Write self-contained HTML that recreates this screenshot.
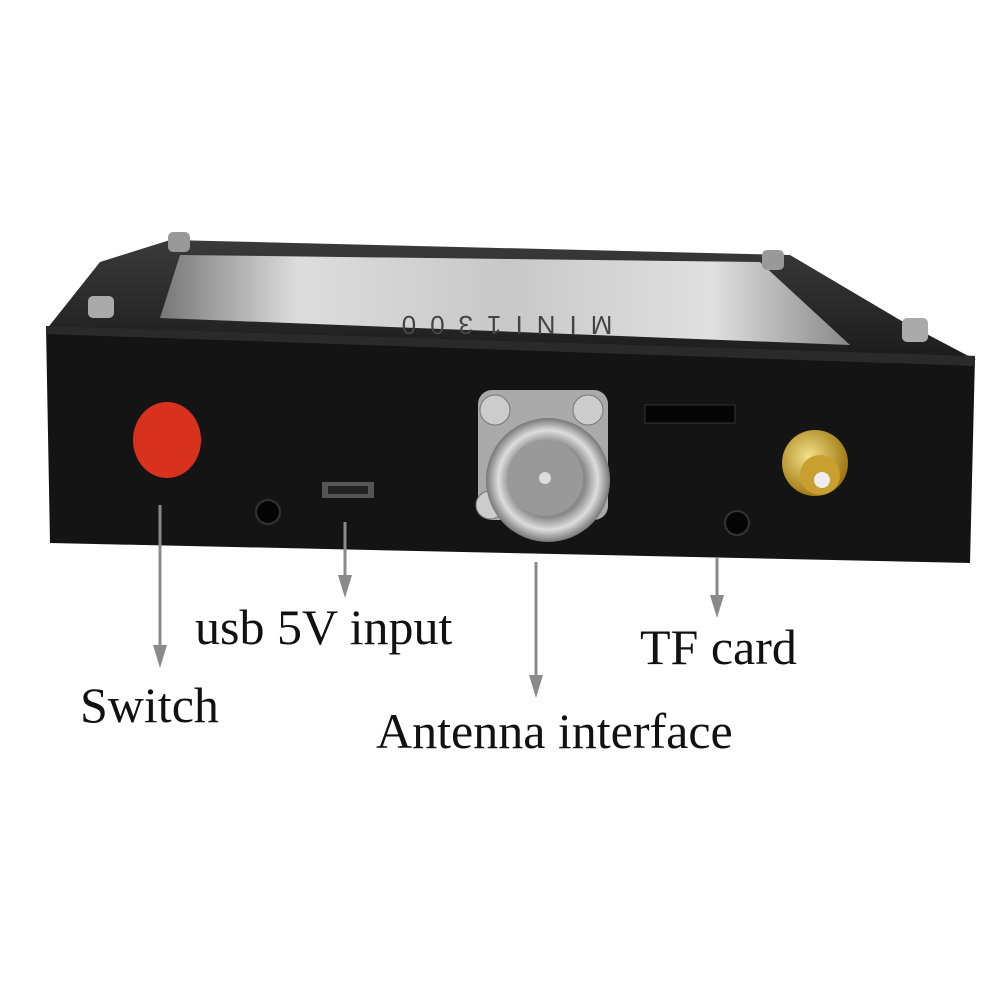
<!DOCTYPE html>
<html><head><meta charset="utf-8"><style>
html,body{margin:0;padding:0;background:#fff;}
.t{position:absolute;font-family:"Liberation Serif",serif;font-size:50px;color:#111;white-space:nowrap;}
</style></head><body>
<div style="position:relative;width:1001px;height:1001px;overflow:hidden;">
<svg width="1001" height="1001" style="position:absolute;left:0;top:0">
<defs>
<linearGradient id="top" x1="0" y1="0" x2="0" y2="1"><stop offset="0" stop-color="#3a3a3a"/><stop offset="1" stop-color="#1c1c1c"/></linearGradient>
<linearGradient id="scr" x1="0" y1="0" x2="1" y2="0"><stop offset="0" stop-color="#777"/><stop offset=".2" stop-color="#ddd"/><stop offset=".5" stop-color="#c8c8c8"/><stop offset=".8" stop-color="#e0e0e0"/><stop offset="1" stop-color="#888"/></linearGradient>
<radialGradient id="ag" cx=".5" cy=".5" r=".5"><stop offset="0" stop-color="#bbb"/><stop offset=".6" stop-color="#888"/><stop offset=".8" stop-color="#ddd"/><stop offset="1" stop-color="#777"/></radialGradient>
<radialGradient id="gold" cx=".4" cy=".4" r=".6"><stop offset="0" stop-color="#f3e08a"/><stop offset="1" stop-color="#a07a10"/></radialGradient>
</defs>
<polygon points="100,262 170,240 790,255 900,320 976,360 46,330" fill="url(#top)"/>
<polygon points="180,255 760,262 850,345 160,318" fill="url(#scr)"/>
<text x="500" y="320" font-family="Liberation Sans,sans-serif" font-size="26" fill="#444" text-anchor="middle" transform="rotate(180 500 318)" letter-spacing="14">MINI1300</text>
<rect x="168" y="232" width="22" height="20" rx="5" fill="#999"/>
<rect x="88" y="296" width="26" height="22" rx="5" fill="#aaa"/>
<rect x="762" y="250" width="22" height="20" rx="5" fill="#999"/>
<rect x="902" y="318" width="26" height="24" rx="5" fill="#aaa"/>
<polygon points="46,326 975,356 970,563 50,543" fill="#141414"/>
<polygon points="46,326 975,356 975,366 46,334" fill="#2a2a2a"/>
<ellipse cx="167" cy="440" rx="34" ry="38" fill="#d8321f"/>
<circle cx="268" cy="512" r="12" fill="#050505" stroke="#333" stroke-width="2"/>
<circle cx="737" cy="523" r="12" fill="#050505" stroke="#333" stroke-width="2"/>
<rect x="322" y="482" width="52" height="16" fill="#555"/>
<rect x="328" y="486" width="40" height="8" fill="#222"/>
<rect x="645" y="405" width="90" height="18" fill="#050505" stroke="#333"/>
<rect x="478" y="390" width="130" height="130" rx="14" fill="#aaa"/>
<circle cx="495" cy="410" r="15" fill="#ccc" stroke="#777"/>
<circle cx="588" cy="410" r="15" fill="#ccc" stroke="#777"/>
<circle cx="490" cy="505" r="14" fill="#ccc" stroke="#777"/>
<circle cx="548" cy="480" r="62" fill="url(#ag)"/>
<circle cx="545" cy="478" r="38" fill="#999"/>
<circle cx="545" cy="478" r="6" fill="#ddd"/>
<circle cx="815" cy="463" r="33" fill="url(#gold)"/>
<circle cx="820" cy="475" r="20" fill="#c9a030"/>
<circle cx="822" cy="480" r="8" fill="#eee"/>
<g stroke="#8a8a8a" stroke-width="3" fill="#8a8a8a">
<line x1="160" y1="505" x2="160" y2="655"/><polygon points="153,645 167,645 160,668" stroke="none"/>
<line x1="345" y1="522" x2="345" y2="585"/><polygon points="338,575 352,575 345,598" stroke="none"/>
<line x1="536" y1="562" x2="536" y2="685"/><polygon points="529,675 543,675 536,698" stroke="none"/>
<line x1="717" y1="558" x2="717" y2="605"/><polygon points="710,595 724,595 717,618" stroke="none"/>
</g>
</svg>
<div class="t" style="left:195px;top:598px;">usb 5V input</div>
<div class="t" style="left:80px;top:676px;">Switch</div>
<div class="t" style="left:640px;top:618px;">TF card</div>
<div class="t" style="left:376px;top:702px;">Antenna interface</div>
</div>
</body></html>
